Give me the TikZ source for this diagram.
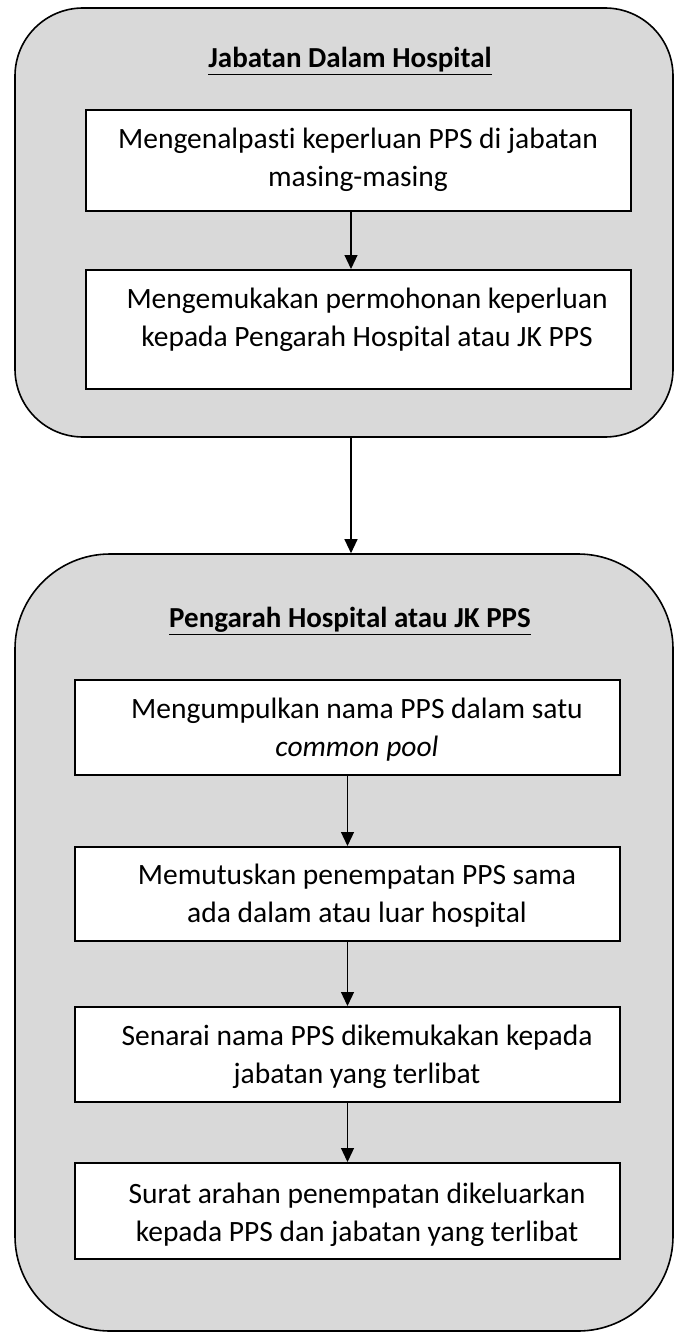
\documentclass[tikz,border=0pt]{standalone}
\usepackage{fontspec}
\setmainfont{Carlito}[Ligatures=NoCommon]
\usetikzlibrary{arrows.meta}
\definecolor{panelgray}{RGB}{217,217,217}

\begin{document}
\begin{tikzpicture}[x=1pt, y=-1pt,
	panel/.style={draw, line width=1.6pt, fill=panelgray, rounded corners=#1, inner sep=0pt},
	stepbox/.style={draw, line width=2pt, fill=white, minimum width=545pt, inner sep=0pt},
	txt/.style={align=center, font=\fontsize{29.5}{38}\selectfont},
	title/.style={font=\fontsize{29}{38}\selectfont\bfseries},
	arr/.style={-{Triangle[width=13pt,length=14pt]}, line width=1.2pt}]

\useasboundingbox (0,0) rectangle (675,1335);

% Jabatan Dalam Hospital
	\node [panel=68pt, minimum width=658pt, minimum height=429pt] (grp1) at (344,222.5) {};
	\node [title] (h1) at (350,61) {\underline{Jabatan Dalam Hospital}};

	\node [stepbox, minimum height=101pt] (b1) at (358,160.5) {};
	\node [txt] (t1) at (358,160) {Mengenalpasti keperluan PPS di jabatan\\masing-masing};

	\node [stepbox, minimum height=119pt] (b2) at (358,329.5) {};
	\node [txt] (t2) at (367,320) {Mengemukakan permohonan keperluan\\kepada Pengarah Hospital atau JK PPS};

% Pengarah Hospital atau JK PPS
	\node [panel=95pt, minimum width=658pt, minimum height=777pt] (grp2) at (344,942.5) {};
	\node [title] (h2) at (350,621) {\underline{Pengarah Hospital atau JK PPS}};

	\node [stepbox, minimum height=95pt] (b3) at (347.5,727.5) {};
	\node [txt] (t3) at (357,730) {Mengumpulkan nama PPS dalam satu\\\textit{common pool}};

	\node [stepbox, minimum height=94pt] (b4) at (347.5,894) {};
	\node [txt] (t4) at (357,896) {Memutuskan penempatan PPS sama\\ada dalam atau luar hospital};

	\node [stepbox, minimum height=95pt] (b5) at (347.5,1054.5) {};
	\node [txt] (t5) at (357,1057) {Senarai nama PPS dikemukakan kepada\\jabatan yang terlibat};

	\node [stepbox, minimum height=96pt] (b6) at (347.5,1211) {};
	\node [txt] (t6) at (357,1215) {Surat arahan penempatan dikeluarkan\\kepada PPS dan jabatan yang terlibat};

\draw [arr] ([xshift=-7pt]b1.south) -- ([xshift=-7pt]b2.north);
\draw [arr] ([xshift=7pt]grp1.south) -- ([xshift=7pt]grp2.north);
\draw [arr] (b3) -- (b4);
\draw [arr] (b4) -- (b5);
\draw [arr] (b5) -- (b6);

\end{tikzpicture}
\end{document}
